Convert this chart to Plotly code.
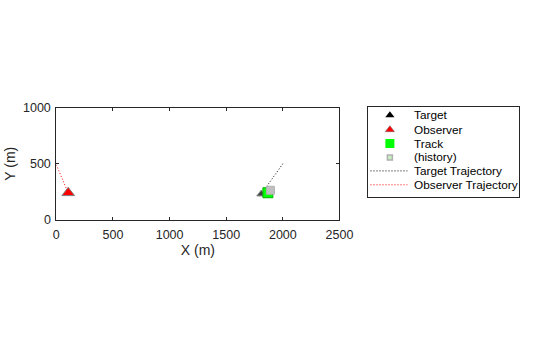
import plotly.graph_objects as go

# Scene data (metres)
target_traj_x = [2000, 1810]
target_traj_y = [500, 230]
observer_traj_x = [0, 105]
observer_traj_y = [490, 240]
target_pos = (1810, 230)
observer_pos = (105, 240)
track_pos = (1868, 241)
history_x = [1890]
history_y = [263]

x_ticks = [0, 500, 1000, 1500, 2000, 2500]
y_ticks = [0, 500, 1000]

legend_labels = ["Target", "Observer", "Track", "(history)",
                 "Target Trajectory", "Observer Trajectory"]

W, H = 560, 337
AX = "#262626"
FONT = "Liberation Sans, Arial, sans-serif"
DOTS = "1px,2px"

fig = go.Figure()

# --- main axes ---
fig.add_trace(go.Scatter(x=target_traj_x, y=target_traj_y, mode="lines",
                         line=dict(color="black", width=1, dash=DOTS),
                         hoverinfo="skip"))
fig.add_trace(go.Scatter(x=observer_traj_x, y=observer_traj_y, mode="lines",
                         line=dict(color="red", width=1, dash=DOTS),
                         hoverinfo="skip"))
fig.add_trace(go.Scatter(x=[target_pos[0]], y=[target_pos[1]], mode="markers",
                         marker=dict(symbol="triangle-up", size=8, color="#404040",
                                     line=dict(color="#909090", width=1))))
fig.add_trace(go.Scatter(x=[observer_pos[0]], y=[observer_pos[1]], mode="markers",
                         marker=dict(symbol="triangle-up", size=11, color="#ff0000",
                                     line=dict(color="#808080", width=1))))
fig.add_trace(go.Scatter(x=[track_pos[0]], y=[track_pos[1]], mode="markers",
                         marker=dict(symbol="square", size=10, color="#00ff00",
                                     line=dict(color="#00b000", width=1))))
fig.add_trace(go.Scatter(x=history_x, y=history_y, mode="markers",
                         marker=dict(symbol="square", size=8, color="#c0c0c0",
                                     line=dict(color="#b0b0b0", width=1))))

# --- legend panel drawn on its own hidden axes (pixel-like units) ---
rows = [9, 24, 38.5, 53, 67, 81.5]
mk_x = 23
legend_markers = [
    dict(symbol="triangle-up", size=8, color="black"),
    dict(symbol="triangle-up", size=8, color="#ff0000", line=dict(color="#606060", width=0.5)),
    dict(symbol="square", size=9, color="#00ff00"),
    dict(symbol="square", size=5, color="#c8f0c0", line=dict(color="#b0b0b0", width=1.5)),
]
for i, m in enumerate(legend_markers):
    fig.add_trace(go.Scatter(x=[mk_x], y=[rows[i]], mode="markers", marker=m,
                             xaxis="x2", yaxis="y2", hoverinfo="skip"))
for i, col in [(4, "black"), (5, "red")]:
    fig.add_trace(go.Scatter(x=[3, 41], y=[rows[i], rows[i]], mode="lines",
                             line=dict(color=col, width=1, dash=DOTS),
                             xaxis="x2", yaxis="y2", hoverinfo="skip"))
for i, lab in enumerate(legend_labels):
    fig.add_annotation(x=46, y=rows[i], xref="x2", yref="y2", text=lab,
                       showarrow=False, xanchor="left", yanchor="middle",
                       font=dict(family=FONT, size=11.8, color="black"))

px_l, px_r, px_t, px_b = 55, 347, 105, 222
lg_l, lg_r, lg_t, lg_b = 376, 532, 104, 198

fig.update_layout(
    width=W, height=H,
    margin=dict(l=0, r=0, t=0, b=0),
    paper_bgcolor="white", plot_bgcolor="white",
    showlegend=False,
    font=dict(family=FONT, color=AX),
    xaxis=dict(domain=[px_l / W, px_r / W], range=[0, 2500],
               tickvals=x_ticks, ticks="inside", ticklen=3, tickcolor=AX,
               showline=True, linecolor=AX, linewidth=1, mirror="ticks",
               showgrid=False, zeroline=False, ticklabelstandoff=3,
               tickfont=dict(size=12.5, color=AX),
               title=dict(text="X (m)", font=dict(size=14, color=AX), standoff=4)),
    yaxis=dict(domain=[(H - px_b) / H, (H - px_t) / H], range=[0, 1000],
               tickvals=y_ticks, ticks="inside", ticklen=3, tickcolor=AX,
               showline=True, linecolor=AX, linewidth=1, mirror="ticks",
               showgrid=False, zeroline=False, ticklabelstandoff=2,
               tickfont=dict(size=12.5, color=AX),
               title=dict(text="Y (m)", font=dict(size=14, color=AX), standoff=4)),
    xaxis2=dict(domain=[lg_l / W, lg_r / W], range=[0, lg_r - lg_l],
                anchor="y2", showline=True, mirror=True, linecolor=AX, linewidth=1,
                showticklabels=False, ticks="", showgrid=False, zeroline=False,
                fixedrange=True),
    yaxis2=dict(domain=[(H - lg_b) / H, (H - lg_t) / H], range=[lg_b - lg_t, 0],
                anchor="x2", showline=True, mirror=True, linecolor=AX, linewidth=1,
                showticklabels=False, ticks="", showgrid=False, zeroline=False,
                fixedrange=True),
)

fig.write_html("out.html")
